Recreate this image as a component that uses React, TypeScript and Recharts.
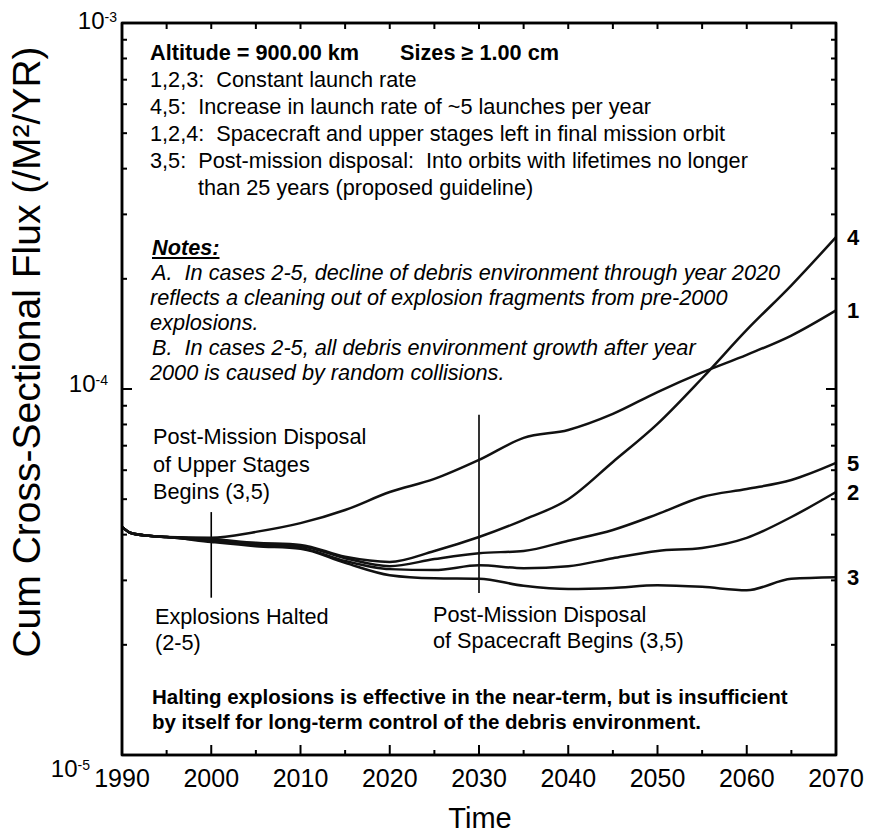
import React from 'react'
import { LineChart, Line, XAxis, YAxis, ReferenceLine, ReferenceArea, LabelList } from 'recharts'

// years
const years = [1990, 1991, 1993, 1995, 2000, 2005, 2010, 2015, 2020, 2025, 2030, 2035, 2040, 2045, 2050, 2055, 2060, 2065, 2070]

// cum cross-sectional flux (/m2/yr) for each case
const case1 = [4.2e-5, 4.04e-5, 3.97e-5, 3.94e-5, 3.92e-5, 4.07e-5, 4.3e-5, 4.67e-5, 5.23e-5, 5.68e-5, 6.4e-5, 7.35e-5, 7.73e-5, 8.55e-5, 9.81e-5, 1.11e-4, 1.24e-4, 1.4e-4, 1.64e-4]
const case2 = [4.2e-5, 4.04e-5, 3.97e-5, 3.94e-5, 3.84e-5, 3.75e-5, 3.68e-5, 3.39e-5, 3.22e-5, 3.2e-5, 3.3e-5, 3.24e-5, 3.28e-5, 3.45e-5, 3.61e-5, 3.68e-5, 3.92e-5, 4.47e-5, 5.23e-5]
const case3 = [4.2e-5, 4.04e-5, 3.97e-5, 3.94e-5, 3.82e-5, 3.72e-5, 3.66e-5, 3.35e-5, 3.1e-5, 3.04e-5, 3.03e-5, 2.9e-5, 2.84e-5, 2.86e-5, 2.91e-5, 2.88e-5, 2.82e-5, 3.03e-5, 3.06e-5]
const case4 = [4.2e-5, 4.04e-5, 3.97e-5, 3.94e-5, 3.89e-5, 3.8e-5, 3.75e-5, 3.48e-5, 3.37e-5, 3.61e-5, 3.94e-5, 4.39e-5, 5.0e-5, 6.32e-5, 8.03e-5, 1.07e-4, 1.45e-4, 1.92e-4, 2.6e-4]
const case5 = [4.2e-5, 4.04e-5, 3.97e-5, 3.94e-5, 3.87e-5, 3.77e-5, 3.72e-5, 3.45e-5, 3.28e-5, 3.43e-5, 3.56e-5, 3.61e-5, 3.85e-5, 4.12e-5, 4.55e-5, 5.07e-5, 5.33e-5, 5.64e-5, 6.28e-5]

const xTicks = [1990, 1995, 2000, 2005, 2010, 2015, 2020, 2025, 2030, 2035, 2040, 2045, 2050, 2055, 2060, 2065, 2070]
const yTicks = [
  1e-5, 2e-5, 3e-5, 4e-5, 5e-5, 6e-5, 7e-5, 8e-5, 9e-5,
  1e-4, 2e-4, 3e-4, 4e-4, 5e-4, 6e-4, 7e-4, 8e-4, 9e-4, 1e-3,
]

const rows = years.map((year, i) => ({
  year, c1: case1[i], c2: case2[i], c3: case3[i], c4: case4[i], c5: case5[i],
}))

const FONT = '"Liberation Sans", Arial, Helvetica, sans-serif'
const lastIndex = years.length - 1

const isPow10 = (v: number) => {
  const e = Math.log10(v)
  return Math.abs(e - Math.round(e)) < 1e-6
}

// the decade labels drift a bit in the scanned original
const expShift: Record<number, [number, number]> = { [-3]: [-5, -2], [-4]: [-14, -5], [-5]: [-32, 14] }

const BottomTick = ({ x, y, payload }: any) => {
  const v = payload.value
  const major = v % 10 === 0
  return (
    <g>
      <line x1={x} x2={x} y1={y} y2={y - (major ? 10 : 5)} stroke="#000" strokeWidth={2} />
      {major && <text x={x} y={y + 32} textAnchor="middle" fontSize={25} fill="#000">{v}</text>}
    </g>
  )
}

const TopTick = ({ x, y }: any) => (
  <line x1={x} x2={x} y1={y} y2={y + 6} stroke="#000" strokeWidth={2} />
)

const LeftTick = ({ x, y, payload }: any) => {
  const v = payload.value
  const major = isPow10(v)
  const e = Math.round(Math.log10(v))
  const [dx, dy] = expShift[e] ?? [-12, 0]
  return (
    <g>
      <line x1={x} x2={x + (major ? 10 : 5)} y1={y} y2={y} stroke="#000" strokeWidth={2} />
      {major && (
        <text x={x + dx} y={y + dy + 8} textAnchor="end" fontSize={24} fill="#000">
          10<tspan dy={-7} fontSize={14}>{e}</tspan>
        </text>
      )}
    </g>
  )
}

const RightTick = ({ x, y, payload }: any) => {
  const major = isPow10(payload.value)
  return <line x1={x} x2={x - (major ? 10 : 5)} y1={y} y2={y} stroke="#000" strokeWidth={2} />
}

const endLabel = (name: string) => (props: any) => {
  if (props.index !== lastIndex) return null
  return (
    <text x={props.x + 11} y={props.y + 8} fontSize={22} fontWeight="bold" fill="#000">{name}</text>
  )
}

// page coordinates: x = left edge, y = vertical centre of the line
function T({ x, y, size = 21.7, bold = false, italic = false, underline = false, children }: any) {
  return (
    <div style={{
      position: 'absolute', left: x - 8, top: y - 8 - size * 0.6, fontSize: size, lineHeight: 1.2,
      fontWeight: bold ? 700 : 400, fontStyle: italic ? 'italic' : 'normal',
      textDecoration: underline ? 'underline' : 'none', whiteSpace: 'pre', color: '#000',
      pointerEvents: 'none',
    }}>{children}</div>
  )
}

const lineProps = { type: 'monotone' as const, stroke: '#111', strokeWidth: 2.5, dot: false, isAnimationActive: false }

export default function App() {
  return (
    <div style={{ position: 'relative', width: 858, height: 824, fontFamily: FONT, background: '#fff' }}>
      <LineChart width={858} height={824} data={rows} margin={{ top: 14, right: 29, bottom: 0, left: 0 }}>
        <XAxis dataKey="year" type="number" domain={[1990, 2070]} ticks={xTicks} interval={0}
          height={77} tickSize={0} tickMargin={0} tick={<BottomTick />}
          axisLine={{ stroke: '#000', strokeWidth: 2.5 }} />
        <XAxis xAxisId="top" orientation="top" dataKey="year" type="number" domain={[1990, 2070]}
          ticks={xTicks} interval={0} height={1} tickSize={0} tickMargin={0} tick={<TopTick />}
          axisLine={{ stroke: '#000', strokeWidth: 2.5 }} />
        <YAxis scale="log" type="number" domain={[1e-5, 1e-3]} allowDataOverflow ticks={yTicks}
          interval={0} width={114} tickSize={0} tickMargin={0} tick={<LeftTick />}
          axisLine={{ stroke: '#000', strokeWidth: 2.5 }} />
        <YAxis yAxisId="right" orientation="right" scale="log" type="number" domain={[1e-5, 1e-3]}
          allowDataOverflow ticks={yTicks} interval={0} width={1} tickSize={0} tickMargin={0}
          tick={<RightTick />} axisLine={{ stroke: '#000', strokeWidth: 2.5 }} />

        <ReferenceArea x1={1990} x2={2070} y1={1e-5} y2={1e-3} fill="none" stroke="#000" strokeWidth={2.5} />
        <ReferenceLine segment={[{ x: 2000, y: 4.61e-5 }, { x: 2000, y: 2.69e-5 }]} stroke="#000" strokeWidth={1.6} />
        <ReferenceLine segment={[{ x: 2030, y: 8.5e-5 }, { x: 2030, y: 2.77e-5 }]} stroke="#000" strokeWidth={1.6} />

        <Line dataKey="c3" {...lineProps}><LabelList content={endLabel('3')} /></Line>
        <Line dataKey="c2" {...lineProps}><LabelList content={endLabel('2')} /></Line>
        <Line dataKey="c5" {...lineProps}><LabelList content={endLabel('5')} /></Line>
        <Line dataKey="c1" {...lineProps}><LabelList content={endLabel('1')} /></Line>
        <Line dataKey="c4" {...lineProps}><LabelList content={endLabel('4')} /></Line>
      </LineChart>

      <T x={150} y={53} bold>Altitude = 900.00 km</T>
      <T x={400} y={53} bold>Sizes ≥ 1.00 cm</T>
      <T x={150} y={80}>1,2,3:  Constant launch rate</T>
      <T x={150} y={107}>4,5:  Increase in launch rate of ~5 launches per year</T>
      <T x={150} y={134}>1,2,4:  Spacecraft and upper stages left in final mission orbit</T>
      <T x={150} y={161}>3,5:  Post-mission disposal:  Into orbits with lifetimes no longer</T>
      <T x={198} y={188}>than 25 years (proposed guideline)</T>

      <T x={152} y={248} bold italic underline>Notes:</T>
      <T x={152} y={273} italic>A.  In cases 2-5, decline of debris environment through year 2020</T>
      <T x={150} y={298} italic>reflects a cleaning out of explosion fragments from pre-2000</T>
      <T x={150} y={323} italic>explosions.</T>
      <T x={152} y={348} italic>B.  In cases 2-5, all debris environment growth after year</T>
      <T x={150} y={373} italic>2000 is caused by random collisions.</T>

      <T x={153} y={437}>Post-Mission Disposal</T>
      <T x={153} y={465}>of Upper Stages</T>
      <T x={153} y={492}>Begins (3,5)</T>

      <T x={155} y={617}>Explosions Halted</T>
      <T x={155} y={643}>(2-5)</T>
      <T x={433} y={615}>Post-Mission Disposal</T>
      <T x={433} y={641}>of Spacecraft Begins (3,5)</T>

      <T x={152} y={697} size={20.5} bold>Halting explosions is effective in the near-term, but is insufficient</T>
      <T x={152} y={722} size={20.5} bold>by itself for long-term control of the debris environment.</T>

      <div style={{
        position: 'absolute', left: 27 - 8, top: 352 - 8, transform: 'translate(-50%, -50%) rotate(-90deg)',
        fontSize: 39, whiteSpace: 'nowrap', color: '#000',
      }}>Cum Cross-Sectional Flux (/M²/YR)</div>
      <div style={{
        position: 'absolute', left: 480 - 8, top: 818 - 8, transform: 'translate(-50%, -50%)',
        fontSize: 29, color: '#000',
      }}>Time</div>
    </div>
  )
}
